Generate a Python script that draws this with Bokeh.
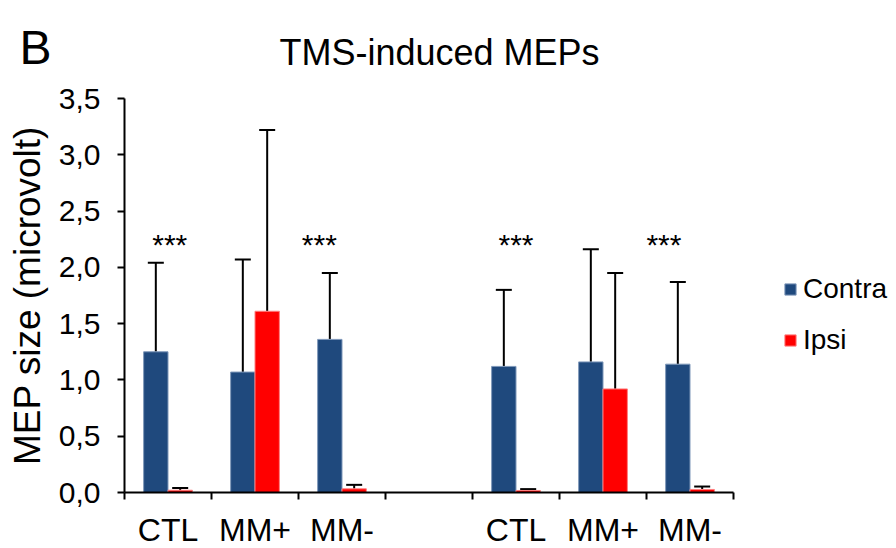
import numpy as np
import pandas as pd
from bokeh.plotting import figure
from bokeh.models import (Range1d, FixedTicker, CustomJSTickFormatter, Whisker, TeeHead,
                          ColumnDataSource, Legend, LegendItem, Label)
from bokeh.core.properties import value
from bokeh.embed import file_html
from bokeh.resources import INLINE

# ---------------- data ----------------
categories = ["CTL", "MM+", "MM-", "", "CTL", "MM+", "MM-"]
contra_mean = [1.25, 1.07, 1.36, np.nan, 1.12, 1.16, 1.14]
contra_sd = [0.79, 1.00, 0.59, np.nan, 0.68, 1.00, 0.73]
ipsi_mean = [0.02, 1.61, 0.033, np.nan, 0.018, 0.92, 0.027]
ipsi_sd = [0.02, 1.61, 0.035, np.nan, 0.012, 1.03, 0.026]
significance = ["***", "", "***", "", "***", "", "***"]
y_ticks = [0.0, 0.5, 1.0, 1.5, 2.0, 2.5, 3.0, 3.5]
series = ["Contra", "Ipsi"]
title_text = "TMS-induced MEPs"
panel_letter = "B"
y_label = "MEP size (microvolt)"

# ---------------- layout / style ----------------
W, H = 896, 548
FONT = "Liberation Sans"
C_CONTRA = "#1F497D"
C_IPSI = "#FF0000"
BAR_W = 0.28
SHIFT = 0.14
star_shift = [0.02, 0.0, -0.26, 0.0, 0.0, 0.0, -0.30]
STAR_Y = 2.2
Y_MAX = 3.5
N = len(categories)
# plot area in canvas pixels
AX_L, AX_R, AX_T, AX_B = 124, 733, 98, 492
xpp = (AX_R - AX_L) / N
ypp = (AX_B - AX_T) / Y_MAX

df = pd.DataFrame(dict(cat=categories, cm=contra_mean, csd=contra_sd,
                       im=ipsi_mean, isd=ipsi_sd, sig=significance,
                       shift=star_shift))
df["center"] = np.arange(N) + 0.5
bars = df.dropna(subset=["cm"]).copy()
bars["cx"] = bars["center"] - SHIFT
bars["ix"] = bars["center"] + SHIFT
bars["ctop"] = bars["cm"] + bars["csd"]
bars["itop"] = bars["im"] + bars["isd"]
src = ColumnDataSource(bars)

stars = df[df["sig"] != ""].copy()
stars["sx"] = stars["center"] + stars["shift"]
stars["sy"] = STAR_Y
star_src = ColumnDataSource(stars)

p = figure(width=W, height=H,
           x_range=Range1d(-AX_L / xpp, (W - AX_L) / xpp),
           y_range=Range1d(-(H - AX_B) / ypp, AX_B / ypp),
           output_backend="svg", toolbar_location=None,
           min_border_left=0, min_border_right=0, min_border_top=0,
           min_border_bottom=0)
p.outline_line_color = None
p.grid.visible = False
p.background_fill_color = "white"
p.border_fill_color = "white"

r_contra = p.vbar(x="cx", top="cm", bottom=0, width=BAR_W, source=src,
                  fill_color=C_CONTRA, line_color="#7F98BA", line_width=1)
r_ipsi = p.vbar(x="ix", top="im", bottom=0, width=BAR_W, source=src,
                fill_color=C_IPSI, line_color="#FF7F7F", line_width=1)

for xcol, lo, hi in [("cx", "cm", "ctop"), ("ix", "im", "itop")]:
    w = Whisker(base=xcol, lower=lo, upper=hi, source=src, dimension="height",
                line_color="black", line_width=2, lower_head=None,
                upper_head=TeeHead(size=16, line_color="black", line_width=2))
    p.add_layout(w)

p.text(x="sx", y="sy", text="sig", source=star_src, text_align="center",
       text_baseline="alphabetic", text_font=value(FONT), text_font_size="30px",
       text_color="black")

# y axis (fixed at x = 0)
ya = p.yaxis[0]
ya.fixed_location = 0
ya.bounds = (0, Y_MAX)
ya.ticker = FixedTicker(ticks=y_ticks)
ya.formatter = CustomJSTickFormatter(code="return tick.toFixed(1).replace('.', ',');")
ya.axis_line_width = 2
ya.axis_line_color = "black"
ya.major_tick_line_width = 2
ya.major_tick_line_color = "black"
ya.major_tick_in = 0
ya.major_tick_out = 7
ya.minor_tick_line_color = None
ya.major_label_text_font = FONT
ya.major_label_text_font_size = "30px"
ya.major_label_text_color = "black"
ya.major_label_standoff = 17
ya.axis_label = y_label
ya.axis_label_text_font = FONT
ya.axis_label_text_font_size = "37px"
ya.axis_label_text_font_style = "normal"
ya.axis_label_text_color = "black"
ya.axis_label_standoff = 8

# x axis (fixed at y = 0)
xa = p.xaxis[0]
xa.fixed_location = 0
xa.bounds = (0, N)
xa.ticker = FixedTicker(ticks=list(df["center"]), minor_ticks=list(range(N + 1)))
xa.formatter = CustomJSTickFormatter(args=dict(cats=categories),
                                     code="return cats[Math.floor(tick)];")
xa.axis_line_width = 2
xa.axis_line_color = "black"
xa.major_tick_line_color = None
xa.major_tick_in = 0
xa.major_tick_out = 0
xa.minor_tick_line_width = 2
xa.minor_tick_line_color = "black"
xa.minor_tick_in = 0
xa.minor_tick_out = 7
xa.major_label_text_font = FONT
xa.major_label_text_font_size = "32px"
xa.major_label_text_color = "black"
xa.major_label_standoff = 12

legend = Legend(items=[LegendItem(label=series[0], renderers=[r_contra]),
                       LegendItem(label=series[1], renderers=[r_ipsi])],
                location=(783, H - 356), padding=0, margin=0, spacing=19,
                glyph_width=14, glyph_height=14, label_standoff=6,
                label_text_font=FONT, label_text_font_size="28px",
                label_text_color="black",
                label_height=31, border_line_alpha=0, background_fill_alpha=0)
p.add_layout(legend, "center")

p.add_layout(Label(x=279, y=H - 52, x_units="screen", y_units="screen", text=title_text,
                   text_font=FONT, text_font_size="36px", text_baseline="alphabetic",
                   text_align="left", text_color="black"))
p.add_layout(Label(x=19, y=H - 47, x_units="screen", y_units="screen", text=panel_letter,
                   text_font=FONT, text_font_size="48px", text_baseline="alphabetic",
                   text_align="left", text_color="black"))

open("out.html", "w").write(file_html(p, INLINE))
